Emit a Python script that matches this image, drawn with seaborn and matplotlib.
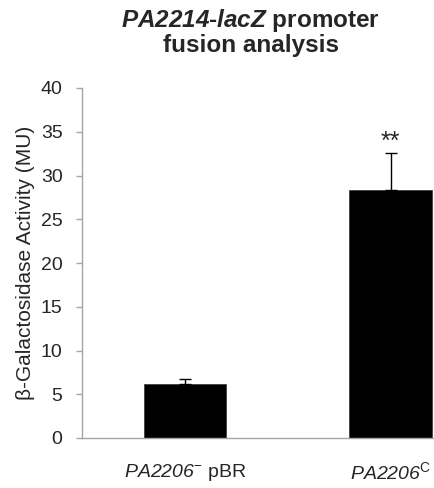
import matplotlib
matplotlib.use("Agg")
import matplotlib.pyplot as plt
import seaborn as sns
import pandas as pd

categories = [r"$\mathsf{PA2206}^{-}$ pBR", r"$\mathsf{PA2206}^{\mathrm{C}}$"]
means = [6.2, 28.3]
errors = [0.5, 4.3]
yticks = [0, 5, 10, 15, 20, 25, 30, 35, 40]

sns.set_style("white")
plt.rcParams['font.family'] = ['Liberation Sans', 'DejaVu Sans']
plt.rcParams['mathtext.fontset'] = 'custom'
plt.rcParams['mathtext.rm'] = 'Liberation Sans'
plt.rcParams['mathtext.it'] = 'Liberation Sans:italic'
plt.rcParams['mathtext.sf'] = 'Liberation Sans:italic'
plt.rcParams['mathtext.bf'] = 'Liberation Sans:bold'
plt.rcParams['mathtext.bfit'] = 'Liberation Sans:italic:bold'

df = pd.DataFrame({"cat": categories, "val": means})

fig = plt.figure(figsize=(4.35, 4.88), dpi=100)
ax = fig.add_axes([82/435, 50/488, 1 - 82/435, 350/488])

sns.barplot(data=df, x="cat", y="val", ax=ax, color="black", width=0.40,
            errorbar=None, edgecolor="#404040", linewidth=0.6, saturation=1)
ax.errorbar(range(len(means)), means, yerr=[[0]*len(errors), errors], fmt="none",
            ecolor="black", elinewidth=1.0, capsize=4.5, capthick=1.0)

ax.text(1, 33.0, "**", ha="center", va="baseline", fontsize=18)

ax.set_ylim(0, 40)
ax.set_xlim(-0.5, (435 - 184.5) / 206)
ax.set_yticks(yticks)
ax.set_yticklabels([str(t) for t in yticks], fontsize=14)
ax.set_xlabel("")
ax.set_ylabel("β-Galactosidase Activity (MU)", fontsize=15, labelpad=4)

for s in ["top", "right"]:
    ax.spines[s].set_visible(False)
for s in ["left", "bottom"]:
    ax.spines[s].set_color("#a6a6a6")
    ax.spines[s].set_linewidth(1.0)

ax.tick_params(axis="y", left=True, length=4, width=1.0, color="#a6a6a6", pad=10, labelsize=14)
ax.tick_params(axis="x", bottom=False, length=0, pad=17, labelsize=14)

fig.text(251/435, 1 - 7/488,
         r"$\mathbfit{PA2214}$-$\mathbfit{lacZ}$ promoter" + "\nfusion analysis",
         ha="center", va="top", fontsize=17.5, fontweight="bold", linespacing=1.0)

fig.savefig("out.png", dpi=100)
